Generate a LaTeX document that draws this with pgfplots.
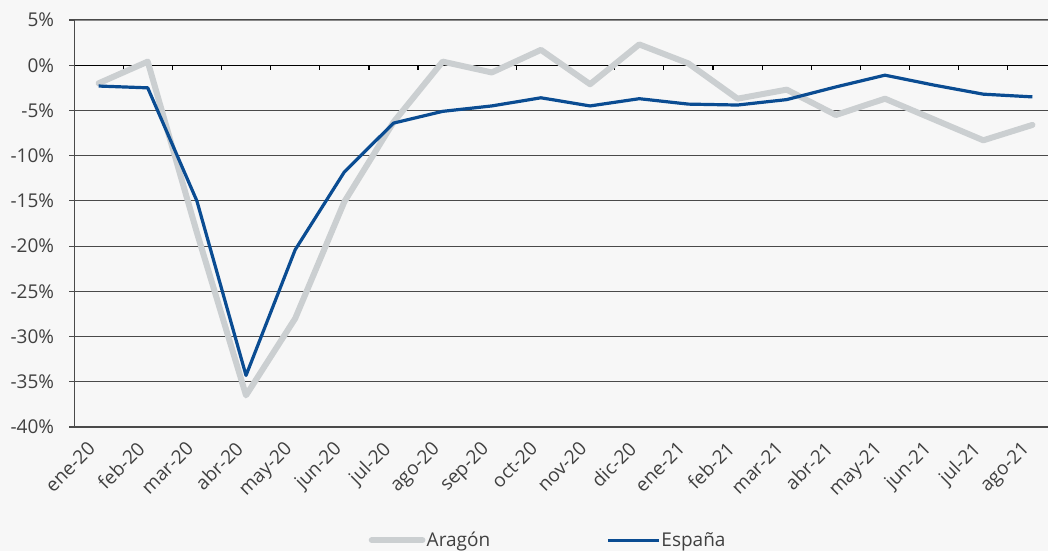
\documentclass[border=0pt]{standalone}
\usepackage{pgfplots}
\pgfplotsset{compat=1.18}
\usepackage{fontspec}
\setmainfont{Open Sans}
\definecolor{bg}{HTML}{F7F7F7}
\definecolor{aragon}{HTML}{CBCFD1}
\definecolor{espana}{HTML}{0A4C92}
\definecolor{txt}{HTML}{404040}
\definecolor{gridc}{HTML}{4A4A4A}
\definecolor{topc}{HTML}{8A8A8A}
\begin{document}
\begin{tikzpicture}
\useasboundingbox (0,0) rectangle (786pt,-413.25pt);
\fill[bg] (0,0) rectangle (786pt,-413.25pt);
\begin{axis}[
  at={(55.5pt,-15pt)}, anchor=north west,
  scale only axis, width=737.25pt, height=305.25pt,
  xmin=-0.5, xmax=19.5, ymin=-40, ymax=5,
  axis line style={draw=none},
  ytick={-40,-35,...,5},
  yticklabels={-40\%,-35\%,-30\%,-25\%,-20\%,-15\%,-10\%,-5\%,0\%,5\%},
  xtick={0,...,19},
  xticklabels={ene-20,feb-20,mar-20,abr-20,may-20,jun-20,jul-20,ago-20,sep-20,oct-20,nov-20,dic-20,ene-21,feb-21,mar-21,abr-21,may-21,jun-21,jul-21,ago-21},
  tick align=outside, major tick length=3.4pt,
  xtick style={draw=none}, ytick style={draw=gridc, line width=0.9pt},
  ytick pos=left, xtick pos=bottom,
  ymajorgrids, grid style={gridc, line width=0.8pt},
  tick label style={font=\fontsize{14.25}{16}\selectfont, text=txt},
  yticklabel style={xshift=-8pt},
  xticklabel style={xshift=-9pt, yshift=-3.5pt, rotate=45, anchor=north east, inner sep=2pt},
  legend columns=2,
  legend style={at={(0.482,-0.278)}, anchor=center, draw=none, fill=none,
    font=\fontsize{14.25}{16}\selectfont, text=txt,
    /tikz/every even column/.append style={column sep=86pt},
    nodes={inner sep=1pt}},
  legend image code/.code={\draw[#1] (0pt,0pt) -- (38pt,0pt);},
]
\draw[topc, line width=0.9pt] (axis cs:-0.5,5) -- (axis cs:19.5,5);
\draw[black, line width=1pt] (axis cs:-0.5,0) -- (axis cs:19.5,0);
\draw[gridc, line width=1pt] (axis cs:-0.5,-40) -- (axis cs:-0.5,5);
\pgfplotsinvokeforeach{0,...,18}{\draw[black, line width=0.9pt] (axis cs:#1.5,0) -- ++(0pt,-3.5pt);}
\addplot[aragon, line width=4.5pt, line join=round, line cap=round] coordinates {
(0,-2.0) (1,0.4) (2,-18.5) (3,-36.5) (4,-28.0) (5,-15.1) (6,-6.3) (7,0.4) (8,-0.8) (9,1.7)
(10,-2.1) (11,2.3) (12,0.2) (13,-3.7) (14,-2.7) (15,-5.5) (16,-3.7) (17,-6.0) (18,-8.3) (19,-6.6)};
\addlegendentry{Aragón}
\addplot[espana, line width=2.4pt, line join=round] coordinates {
(0,-2.3) (1,-2.5) (2,-15.0) (3,-34.3) (4,-20.4) (5,-11.8) (6,-6.4) (7,-5.1) (8,-4.5) (9,-3.6)
(10,-4.5) (11,-3.7) (12,-4.3) (13,-4.4) (14,-3.8) (15,-2.4) (16,-1.1) (17,-2.2) (18,-3.2) (19,-3.5)};
\addlegendentry{España}
\end{axis}
\end{tikzpicture}
\end{document}
